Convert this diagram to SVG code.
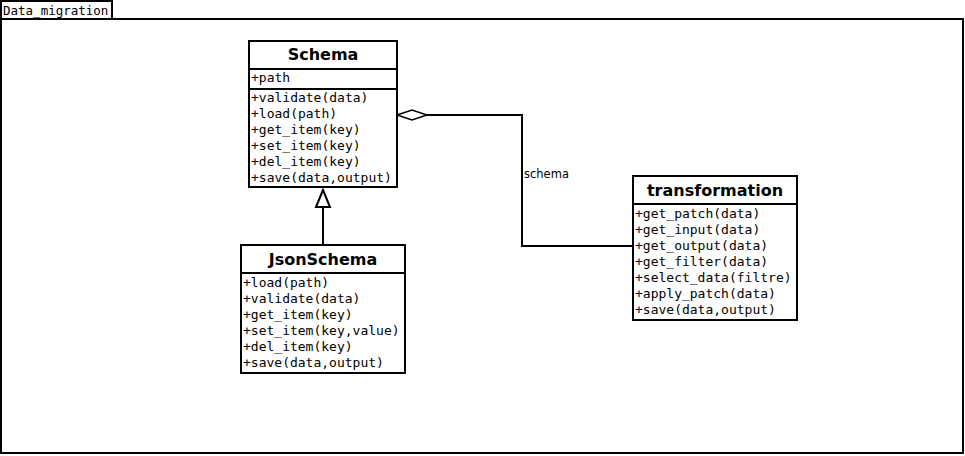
<svg xmlns="http://www.w3.org/2000/svg" width="965" height="456" viewBox="0 0 965 456">
<style>
.box{fill:#fff;stroke:#000;stroke-width:2}
.ln{stroke:#000;stroke-width:2;fill:none}
.ttl{font-family:"DejaVu Sans",sans-serif;font-weight:bold;font-size:16px;text-anchor:middle}
.mem{font-family:"DejaVu Sans Mono",monospace;font-size:13px}
.tab{font-family:"DejaVu Sans Mono",monospace;font-size:12.5px}
.lbl{font-family:"DejaVu Sans",sans-serif;font-size:11.5px}
</style>
<rect width="965" height="456" fill="#fff"/>
<g id="frame">
<rect class="box" x="1" y="19" width="962" height="434"/>
<rect class="box" x="1" y="1" width="111" height="18"/>
<text class="tab" x="3" y="15">Data_migration</text>
</g>
<g id="connectors">
<polyline class="ln" points="427,115 522,115 522,246 632,246"/>
<polygon points="397,115 412,110 427,115 412,120" fill="#fff" stroke="#000" stroke-width="1.5"/>
<text class="lbl" x="524" y="178">schema</text>
<line class="ln" x1="323" y1="207" x2="323" y2="245"/>
<polygon points="323,190 316,207 330,207" fill="#fff" stroke="#000" stroke-width="2"/>
</g>
<g id="Schema">
<rect class="box" x="249" y="41" width="148" height="146"/>
<line class="ln" x1="249" y1="69" x2="397" y2="69"/>
<line class="ln" x1="249" y1="89" x2="397" y2="89"/>
<text class="ttl" x="323" y="60">Schema</text>
<text class="mem" x="251" y="82">+path</text>
<text class="mem" x="251" y="102">+validate(data)</text>
<text class="mem" x="251" y="118">+load(path)</text>
<text class="mem" x="251" y="134">+get_item(key)</text>
<text class="mem" x="251" y="150">+set_item(key)</text>
<text class="mem" x="251" y="166">+del_item(key)</text>
<text class="mem" x="251" y="182">+save(data,output)</text>
</g>
<g id="JsonSchema">
<rect class="box" x="241" y="245" width="164" height="128"/>
<line class="ln" x1="241" y1="273" x2="405" y2="273"/>
<text class="ttl" x="323" y="265">JsonSchema</text>
<text class="mem" x="243" y="287">+load(path)</text>
<text class="mem" x="243" y="303">+validate(data)</text>
<text class="mem" x="243" y="319">+get_item(key)</text>
<text class="mem" x="243" y="335">+set_item(key,value)</text>
<text class="mem" x="243" y="351">+del_item(key)</text>
<text class="mem" x="243" y="367">+save(data,output)</text>
</g>
<g id="transformation">
<rect class="box" x="633" y="176" width="164" height="144"/>
<line class="ln" x1="633" y1="204" x2="797" y2="204"/>
<text class="ttl" x="715" y="196">transformation</text>
<text class="mem" x="635" y="218">+get_patch(data)</text>
<text class="mem" x="635" y="234">+get_input(data)</text>
<text class="mem" x="635" y="250">+get_output(data)</text>
<text class="mem" x="635" y="266">+get_filter(data)</text>
<text class="mem" x="635" y="282">+select_data(filtre)</text>
<text class="mem" x="635" y="298">+apply_patch(data)</text>
<text class="mem" x="635" y="314">+save(data,output)</text>
</g>
</svg>
